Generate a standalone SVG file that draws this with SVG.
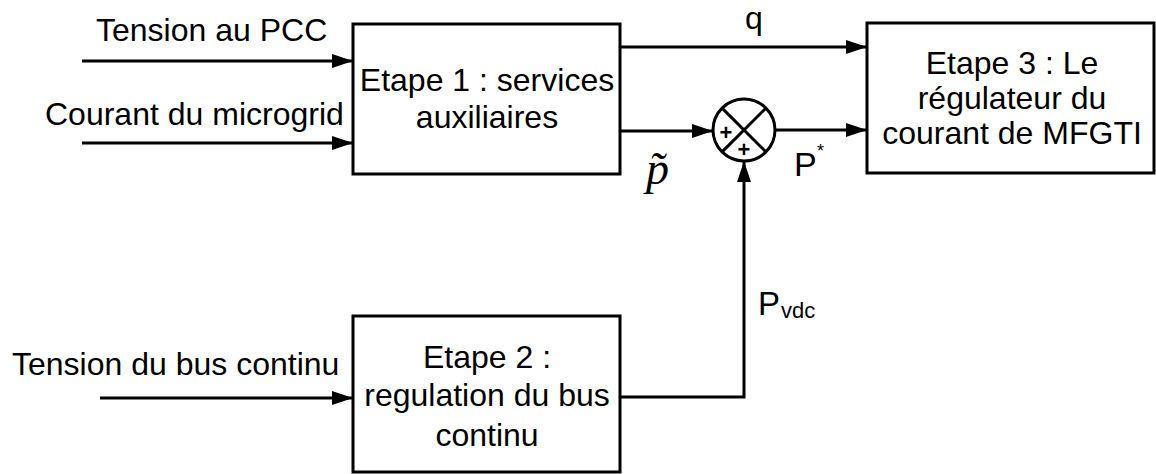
<svg xmlns="http://www.w3.org/2000/svg" width="1156" height="474" viewBox="0 0 1156 474">
<style>
.box{fill:#fff;stroke:#000;stroke-width:3}
.ln{fill:none;stroke:#000;stroke-width:3}
.t{font-family:"Liberation Sans",Arial,sans-serif;font-size:32px;fill:#000}
.c{text-anchor:middle}
</style>
<defs>
<marker id="ah" markerWidth="22" markerHeight="16" refX="21" refY="8" orient="auto" markerUnits="userSpaceOnUse">
<path d="M0,1 L21,8 L0,15 Z" fill="#000"/>
</marker>
</defs>
<rect width="1156" height="474" fill="#fff"/>
<g id="connectors">
<line class="ln" x1="82" y1="61" x2="353" y2="61" marker-end="url(#ah)"/>
<line class="ln" x1="82" y1="143" x2="353" y2="143" marker-end="url(#ah)"/>
<line class="ln" x1="100" y1="398" x2="353" y2="398" marker-end="url(#ah)"/>
<line class="ln" x1="620" y1="47" x2="867" y2="47" marker-end="url(#ah)"/>
<line class="ln" x1="620" y1="131" x2="713" y2="131" marker-end="url(#ah)"/>
<line class="ln" x1="775" y1="130" x2="867" y2="130" marker-end="url(#ah)"/>
<polyline class="ln" points="620,397 744,397 744,161" marker-end="url(#ah)"/>
</g>
<g id="labels">
<text class="t" x="96" y="41">Tension au PCC</text>
<text class="t" x="45" y="125">Courant du microgrid</text>
<text class="t" x="12" y="375">Tension du bus continu</text>
<text class="t c" x="754" y="29">q</text>
<text class="t" x="794" y="176" style="font-size:34px">P</text>
<text class="t" x="817" y="157" style="font-size:18px">*</text>
<text class="t" x="758" y="315" style="font-size:33px">P</text>
<text class="t" x="781" y="318" style="font-size:22px">vdc</text>
<text x="646" y="184" style="font-family:'Liberation Serif',serif;font-style:italic;font-size:46px">p̃</text>
</g>
<g id="step1">
<rect class="box" x="353" y="24" width="267" height="150"/>
<text class="t c" x="487" y="91">Etape 1 : services</text>
<text class="t c" x="487" y="128">auxiliaires</text>
</g>
<g id="step2">
<rect class="box" x="353" y="316" width="267" height="156"/>
<text class="t c" x="487" y="368">Etape 2 :</text>
<text class="t c" x="487" y="406">regulation du bus</text>
<text class="t c" x="487" y="446">continu</text>
</g>
<g id="step3">
<rect class="box" x="867" y="23" width="287" height="150"/>
<text class="t c" x="1012" y="74">Etape 3 : Le</text>
<text class="t c" x="1012" y="109">régulateur du</text>
<text class="t c" x="1012" y="144">courant de MFGTI</text>
</g>
<g id="sum">
<circle cx="744" cy="130" r="31" fill="#fff" stroke="#000" stroke-width="3"/>
<line class="ln" x1="722.1" y1="108.1" x2="765.9" y2="151.9"/>
<line class="ln" x1="765.9" y1="108.1" x2="722.1" y2="151.9"/>
<text class="t c" x="726" y="140" style="font-size:22px;font-weight:bold">+</text>
<text class="t c" x="744" y="157" style="font-size:22px;font-weight:bold">+</text>
</g>
</svg>
